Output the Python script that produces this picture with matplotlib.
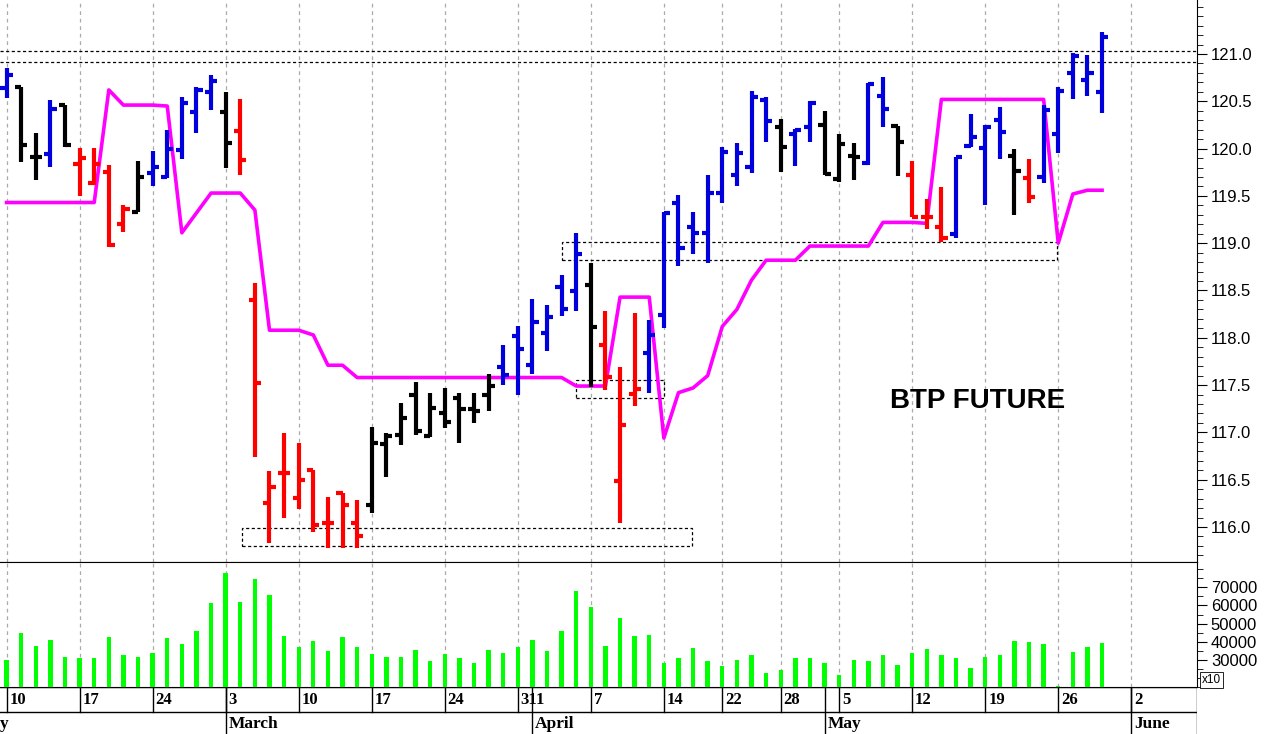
import numpy as np
import pandas as pd
import matplotlib
matplotlib.use("Agg")
import matplotlib.pyplot as plt
from matplotlib.ticker import MultipleLocator, FixedLocator

holidays = ['2014-04-18', '2014-04-21', '2014-05-01']
dates = [d for d in pd.bdate_range('2014-02-10', '2014-06-06') if d.strftime('%Y-%m-%d') not in holidays]

opens = [120.64,120.65,119.91,119.94,120.46,119.84,119.64,119.75,119.20,119.33,119.74,119.70,119.99,120.39,120.60,
         120.39,120.19,118.40,116.25,116.57,116.31,116.60,116.04,116.36,116.04,116.23,116.88,116.97,117.40,116.96,
         117.21,117.36,117.25,117.40,117.69,118.02,117.71,118.05,118.54,118.49,118.56,117.92,116.49,117.41,117.84,
         118.24,119.43,119.17,119.11,119.53,119.72,119.81,120.51,120.23,120.15,120.23,120.25,119.68,119.92,119.85,
         120.56,120.24,119.72,119.28,119.17,119.10,120.03,120.01,120.30,119.92,119.69,119.70,120.15,120.80,120.73,120.60]
highs = [120.85,120.65,120.16,120.51,120.46,120.01,120.01,119.83,119.40,119.87,119.97,120.20,120.55,120.65,120.78,
         120.60,120.52,118.58,116.59,116.99,116.89,116.60,116.32,116.36,116.29,117.06,116.99,117.31,117.53,117.42,
         117.47,117.42,117.42,117.62,117.92,118.12,118.41,118.35,118.66,119.11,118.79,118.28,117.69,118.26,118.19,
         119.33,119.51,119.33,119.72,120.02,120.06,120.61,120.55,120.31,120.21,120.50,120.40,120.15,120.06,120.69,
         120.76,120.24,119.87,119.47,119.59,119.91,120.37,120.25,120.44,120.00,119.89,120.46,120.65,121.01,120.99,121.23]
lows = [120.53,119.86,119.67,119.81,120.02,119.50,119.62,118.96,119.12,119.33,119.60,119.69,119.89,120.16,120.41,
        119.80,119.72,116.74,115.83,116.10,116.19,115.95,115.78,115.78,115.78,116.15,116.53,116.87,116.97,116.95,
        117.05,116.89,117.10,117.23,117.50,117.40,117.62,117.86,118.23,118.28,117.48,117.45,116.04,117.28,117.42,
        118.10,118.76,118.89,118.79,119.42,119.60,119.74,120.07,119.75,119.82,120.07,119.72,119.65,119.67,119.83,
        120.23,119.71,119.28,119.15,119.01,119.05,120.02,119.40,119.89,119.30,119.43,119.64,119.95,120.52,120.56,120.38]
closes = [120.78,120.04,119.91,120.42,120.04,119.90,119.84,118.98,119.36,119.70,119.81,120.00,120.48,120.62,120.71,
          120.06,119.88,117.52,116.42,116.57,116.50,116.02,116.04,116.23,115.91,116.89,116.96,117.15,117.01,117.26,
          117.11,117.25,117.23,117.49,117.61,117.88,118.17,118.22,118.30,118.89,118.11,117.59,117.08,117.46,118.03,
          119.32,118.95,119.11,119.53,119.96,119.95,120.55,120.29,120.02,120.20,120.48,119.73,120.05,119.91,120.68,
          120.42,120.07,119.28,119.28,119.05,119.91,120.12,120.23,120.18,119.76,119.49,120.41,120.61,120.98,120.80,121.18]
bar_colors = list("bkkbkrrrrkbbbbbkr" + "rrrrrrrr" + "kkkkkkkkk" + "bbbbbb" + "k" + "rrr" + "bbbbbbbbb" +
                  "kbbkkkbbk" + "rrr" + "bbbb" + "kr" + "bbbbb")
ma_line = [119.43,119.43,119.43,119.43,119.43,119.43,119.43,120.62,120.46,120.46,120.46,120.45,119.11,119.32,119.53,
           119.53,119.53,119.35,118.08,118.08,118.08,118.03,117.71,117.71,117.58,117.58,117.58,117.58,117.58,117.58,
           117.58,117.58,117.58,117.58,117.58,117.58,117.58,117.58,117.58,117.49,117.49,117.49,118.43,118.43,118.43,
           116.94,117.42,117.47,117.60,118.12,118.30,118.61,118.82,118.82,118.82,118.97,118.97,118.97,118.97,118.97,
           119.22,119.22,119.22,119.21,120.52,120.52,120.52,120.52,120.52,120.52,120.52,120.52,119.00,119.52,119.56,119.56]
volume = [30000,44900,37600,40900,31500,30900,31000,42400,32400,31500,34000,41800,38500,45800,61300,
          78200,62000,74600,66000,43100,36900,40400,34900,42400,36900,33100,31500,31500,35500,29500,
          33100,30900,28200,35500,34000,36900,40900,34900,45800,68200,59100,37600,53300,43100,43500,
          28500,30900,36400,29500,26700,30000,32400,22700,24500,30900,30900,28500,21400,30000,29500,
          32400,26900,34000,36200,32400,31000,25500,31500,32400,40400,39600,38500,15500,34200,36900,39400]
# dotted zones: (start index, end index, low, high)
zones = [(16.1, 46.9, 115.80, 115.99), (38.0, 71.9, 118.82, 119.01), (39.0, 45.0, 117.36, 117.55)]
resistance = [121.03, 120.92]
price_ticks = [116.0, 116.5, 117.0, 117.5, 118.0, 118.5, 119.0, 119.5, 120.0, 120.5, 121.0]
volume_ticks = [30000, 40000, 50000, 60000, 70000]
months = {2: 'February', 3: 'March', 4: 'April', 5: 'May', 6: 'June'}

cmap = {'b': '#0000dd', 'k': '#000000', 'r': '#ff0000'}
n = len(opens)
x = np.arange(n)
xmin, xmax = -0.45, 81.5

W, H = 1268, 734
fig = plt.figure(figsize=(W/100, H/100), dpi=100)
plt.rcParams['font.family'] = ['Liberation Sans', 'DejaVu Sans']
R = 1197 / W
ax = fig.add_axes([0, (H-562)/H, R, 562/H])
axv = fig.add_axes([0, (H-687)/H, R, 125/H], sharex=ax)
axd = fig.add_axes([0, 0, R, 47/H], sharex=ax)

week_idx = []
for i, d in enumerate(dates):
    if i == 0 or d.isocalendar()[1] != dates[i-1].isocalendar()[1]:
        week_idx.append(i)
month_idx = [i for i, d in enumerate(dates) if i > 0 and d.month != dates[i-1].month]

for a in (ax, axv):
    for w in week_idx:
        if w < xmax:
            a.axvline(w, color='#aaaaaa', ls=(0, (3, 3)), lw=0.9, zorder=0)

for i in range(n):
    c = cmap[bar_colors[i]]
    ax.vlines(x[i], lows[i], highs[i], color=c, lw=3, zorder=3)
    ax.hlines(opens[i], x[i]-0.42, x[i], color=c, lw=3, zorder=3)
    ax.hlines(closes[i], x[i], x[i]+0.42, color=c, lw=3, zorder=3)
ax.plot(x, ma_line, color='#ff00ff', lw=2.6, zorder=2)
for r in resistance:
    ax.axhline(r, color='black', ls=(0, (2.5, 2)), lw=0.9)
for (s, e, lo, hi) in zones:
    ax.add_patch(plt.Rectangle((s, lo), e-s, hi-lo, fill=False, ec='black', ls=(0, (2.5, 2)), lw=0.9, zorder=1))
ax.text(60.5, 117.33, 'BTP FUTURE', fontsize=20, fontweight='bold', va='center', ha='left')

ax.set_xlim(xmin, xmax)
ax.set_ylim(121 - 508/94.6, 121 + 54/94.6)
ax.yaxis.tick_right()
ax.yaxis.set_major_locator(FixedLocator(price_ticks))
ax.yaxis.set_minor_locator(MultipleLocator(0.1))
ax.yaxis.set_major_formatter(matplotlib.ticker.FormatStrFormatter('%.1f'))
ax.tick_params(axis='y', which='major', length=7, labelsize=12, pad=3, direction='out')
ax.tick_params(axis='y', which='minor', length=4)
ax.tick_params(axis='x', bottom=False, labelbottom=False)
for s in ['left', 'top']:
    ax.spines[s].set_visible(False)

axv.bar(x, volume, width=0.3, color='#00ff00', zorder=3)
axv.set_ylim(15000, 84000)
axv.yaxis.tick_right()
axv.yaxis.set_major_locator(FixedLocator(volume_ticks))
axv.yaxis.set_minor_locator(MultipleLocator(5000))
axv.tick_params(axis='y', which='major', length=7, labelsize=12, pad=3)
axv.tick_params(axis='y', which='minor', length=4)
axv.tick_params(axis='x', bottom=False, labelbottom=False)
axv.spines['left'].set_visible(False)
fig.text(1202/W, (H-680)/H, 'x10', fontsize=8.5, va='center', ha='left',
         bbox=dict(boxstyle='square,pad=0.15', fc='white', ec='black', lw=0.6))

axd.set_ylim(0, 1)
axd.axis('off')
mid = 0.47
axd.axhline(mid, color='black', lw=1)
axd.axhline(1, color='black', lw=1)
axd.axvline(xmax, color='black', lw=1)
serif = ['Liberation Serif', 'DejaVu Serif']
for w in week_idx:
    if w < xmax:
        axd.plot([w, w], [mid, 1], color='black', lw=1)
        axd.text(w + 0.2, 0.73, str(dates[w].day), fontsize=12, fontweight='bold',
                 family=serif, va='center', ha='left')
for m in month_idx:
    if m < xmax:
        axd.plot([m, m], [0, 1], color='black', lw=1)
        if m not in week_idx and dates[m].day == 1:
            axd.text(m + 0.25, 0.73, '1', fontsize=12, fontweight='bold',
                     family=serif, va='center', ha='left')
        axd.text(m + 0.2, 0.22, months[dates[m].month], fontsize=12.5, fontweight='bold',
                 family=serif, va='center', ha='left')
axd.text(xmin, 0.22, 'y', fontsize=12.5, fontweight='bold', family=serif, va='center', ha='left')

fig.savefig('out.png', dpi=100)
